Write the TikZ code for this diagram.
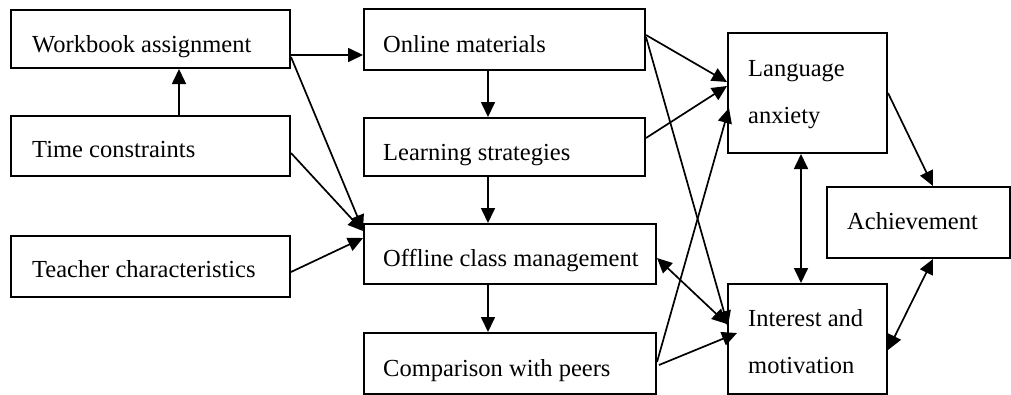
\documentclass[tikz,border=0pt]{standalone}
\usepackage{fontspec}
\setmainfont{Liberation Serif}
\usetikzlibrary{arrows.meta,calc}
\begin{document}
\begin{tikzpicture}[x=1pt,y=-1pt,
  box/.style={draw, line width=2pt, rectangle, inner sep=0pt, anchor=north west},
  lbl/.style={anchor=base west, inner sep=0pt, font=\fontsize{24.5}{28}\selectfont},
  arr/.style={line width=1.7pt, -{Triangle[length=15pt,width=14pt]}},
  darr/.style={line width=1.7pt, {Triangle[length=15pt,width=14pt]}-{Triangle[length=15pt,width=14pt]}}]
\useasboundingbox (0,0) rectangle (1011,394);

% boxes
\node[box, minimum width=279pt, minimum height=58pt] (wb)  at (10,9)  {};
\node[box, minimum width=279pt, minimum height=60pt] (tc)  at (10,115) {};
\node[box, minimum width=279pt, minimum height=61pt] (tch) at (10,235) {};
\node[box, minimum width=281pt, minimum height=61pt] (om)  at (363,8) {};
\node[box, minimum width=281pt, minimum height=58pt] (ls)  at (363,117) {};
\node[box, minimum width=292pt, minimum height=60pt] (ocm) at (363,223) {};
\node[box, minimum width=292pt, minimum height=60.5pt] (cwp) at (363,332) {};
\node[box, minimum width=159pt, minimum height=120pt] (la)  at (727,32) {};
\node[box, minimum width=183pt, minimum height=71pt] (ach) at (826,186) {};
\node[box, minimum width=159pt, minimum height=109.5pt] (im) at (727,283) {};

% labels
\node[lbl] (wbt)  at (32,52)  {Workbook assignment};
\node[lbl] (tct)  at (32,157) {Time constraints};
\node[lbl] (tcht) at (32,277) {Teacher characteristics};
\node[lbl] (omt)  at (383,52) {Online materials};
\node[lbl] (lst)  at (383,160) {Learning strategies};
\node[lbl] (ocmt) at (383,266) {Offline class management};
\node[lbl] (cwpt) at (383,376) {Comparison with peers};
\node[lbl] (lat1) at (748,76)  {Language};
\node[lbl] (lat2) at (748,123) {anxiety};
\node[lbl] (acht) at (847,229) {Achievement};
\node[lbl] (imt1) at (748,326) {Interest and};
\node[lbl] (imt2) at (748,373) {motivation};

% connectors
\draw[arr] ($(wb.north east)+(0,46)$) -- ($(om.north west)+(0,47)$);
\draw[arr] ($(tc.north west)+(169,0)$) -- ($(wb.south west)+(169,0)$);
\draw[arr] ($(wb.north east)+(0,48)$) -- ($(ocm.north west)+(0,7)$);
\draw[arr] ($(tc.north east)+(0,38)$) -- ($(ocm.north west)+(0,8)$);
\draw[arr] ($(tch.north east)+(0,37)$) -- ($(ocm.north west)+(0,15)$);
\draw[arr] ($(om.south west)+(125,0)$) -- ($(ls.north west)+(125,0)$);
\draw[arr] ($(ls.south west)+(125,0)$) -- ($(ocm.north west)+(125,0)$);
\draw[arr] ($(ocm.south west)+(125,0)$) -- ($(cwp.north west)+(125,0)$);
\draw[arr] ($(om.north east)+(0,27)$) -- ($(la.north west)+(0,50)$);
\draw[arr] ($(om.north east)+(0,29)$) -- ($(im.north west)+(1,43)$);
\draw[arr] ($(ls.north east)+(0,21)$) -- ($(la.north west)+(0,54)$);
\draw[darr] ($(ocm.north east)+(0,35)$) -- ($(im.north west)+(0,41)$);
\draw[arr] ($(cwp.north east)+(0,30)$) -- ($(la.north west)+(2,76)$);
\draw[arr] ($(cwp.north east)+(2,33)$) -- ($(im.north west)+(10,50)$);
\draw[darr] ($(la.south west)+(74,0)$) -- ($(im.north west)+(74,0)$);
\draw[arr] ($(la.north east)+(0,61)$) -- ($(ach.north west)+(107,0)$);
\draw[darr] ($(im.north east)+(0,67)$) -- ($(ach.south west)+(107,0)$);
\end{tikzpicture}
\end{document}
